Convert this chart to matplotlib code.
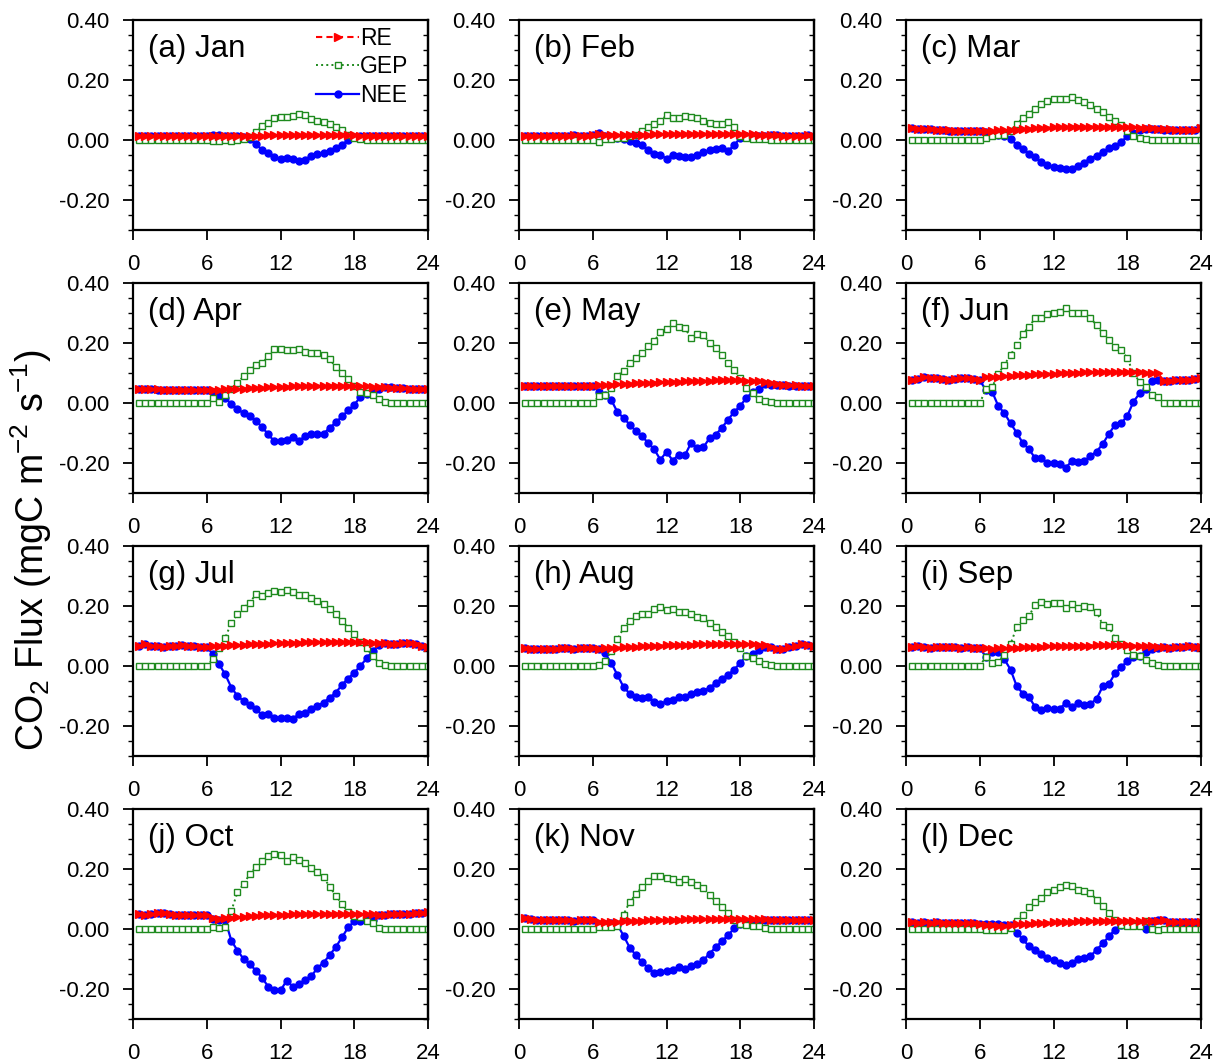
import numpy as np
import matplotlib
matplotlib.use("Agg")
import matplotlib.pyplot as plt
from matplotlib.ticker import MultipleLocator, FormatStrFormatter

plt.rcParams['font.family'] = ['Liberation Sans', 'DejaVu Sans']
plt.rcParams['mathtext.fontset'] = 'custom'
plt.rcParams['mathtext.rm'] = 'Liberation Sans'
plt.rcParams['axes.unicode_minus'] = False

# half-hourly time stamps (h)
hours = np.arange(0.5, 24.01, 0.5)

month_names = ['Jan', 'Feb', 'Mar', 'Apr', 'May', 'Jun',
               'Jul', 'Aug', 'Sep', 'Oct', 'Nov', 'Dec']
panel_tags = ['a', 'b', 'c', 'd', 'e', 'f', 'g', 'h', 'i', 'j', 'k', 'l']

# ---- mean diurnal fluxes, mgC m-2 s-1 ----
re_jan = [0.013, 0.013, 0.013, 0.012, 0.012, 0.012, 0.012, 0.012, 0.012, 0.012, 0.012, 0.013,
          0.014, 0.013, 0.013, 0.012, 0.012, 0.013, 0.014, 0.015, 0.015, 0.016, 0.016, 0.016,
          0.016, 0.017, 0.017, 0.017, 0.017, 0.017, 0.017, 0.017, 0.017, 0.017, 0.017, 0.016,
          0.015, 0.015, 0.014, 0.014, 0.014, 0.013, 0.013, 0.013, 0.013, 0.013, 0.013, 0.013]
gep_jan = [0.0, 0.0, 0.0, 0.0, 0.0, 0.0, 0.0, 0.0, 0.0, 0.0, 0.0, 0.0,
           -0.003, -0.004, 0.000, -0.003, 0.000, 0.002, 0.010, 0.028, 0.048, 0.058, 0.072, 0.078,
           0.076, 0.080, 0.086, 0.082, 0.070, 0.065, 0.060, 0.052, 0.044, 0.032, 0.018, 0.006,
           0.002, 0.001, 0.0, 0.0, 0.0, 0.0, 0.0, 0.0, 0.0, 0.0, 0.0, 0.0]
nee_jan = [0.013, 0.013, 0.013, 0.012, 0.012, 0.012, 0.012, 0.012, 0.012, 0.012, 0.012, 0.013,
           0.017, 0.017, 0.013, 0.015, 0.012, 0.011, 0.004, -0.013, -0.033, -0.042, -0.056, -0.062,
           -0.060, -0.063, -0.069, -0.065, -0.053, -0.048, -0.043, -0.035, -0.027, -0.015, -0.001, 0.010,
           0.013, 0.014, 0.014, 0.014, 0.014, 0.013, 0.013, 0.013, 0.013, 0.013, 0.013, 0.013]

re_feb = [0.014, 0.013, 0.013, 0.013, 0.013, 0.013, 0.014, 0.014, 0.016, 0.015, 0.014, 0.017,
          0.020, 0.018, 0.016, 0.016, 0.016, 0.017, 0.017, 0.018, 0.018, 0.019, 0.019, 0.020,
          0.020, 0.020, 0.020, 0.021, 0.021, 0.021, 0.021, 0.021, 0.021, 0.021, 0.021, 0.020,
          0.019, 0.019, 0.018, 0.017, 0.017, 0.016, 0.015, 0.015, 0.015, 0.015, 0.016, 0.015]
gep_feb = [0.0, 0.0, 0.0, 0.0, 0.0, 0.0, 0.0, 0.0, 0.0, 0.0, 0.0, 0.0,
           -0.005, 0.003, 0.004, 0.006, 0.008, 0.012, 0.018, 0.030, 0.042, 0.052, 0.063, 0.083,
           0.072, 0.074, 0.080, 0.078, 0.073, 0.063, 0.057, 0.053, 0.055, 0.059, 0.042, 0.012,
           0.006, 0.004, 0.003, 0.002, 0.001, 0.0, 0.0, 0.0, 0.0, 0.0, 0.0, 0.0]
nee_feb = [0.014, 0.013, 0.013, 0.013, 0.013, 0.013, 0.014, 0.014, 0.016, 0.015, 0.014, 0.017,
           0.022, 0.013, 0.011, 0.008, 0.002, -0.004, -0.010, -0.018, -0.034, -0.045, -0.050, -0.062,
           -0.050, -0.053, -0.058, -0.056, -0.050, -0.040, -0.034, -0.030, -0.028, -0.036, -0.018, 0.008,
           0.013, 0.015, 0.015, 0.015, 0.016, 0.016, 0.015, 0.015, 0.015, 0.015, 0.016, 0.015]

re_mar = [0.040, 0.038, 0.037, 0.036, 0.035, 0.034, 0.032, 0.031, 0.031, 0.031, 0.031, 0.030,
          0.031, 0.031, 0.032, 0.032, 0.033, 0.035, 0.036, 0.038, 0.039, 0.040, 0.041, 0.042,
          0.043, 0.044, 0.045, 0.045, 0.045, 0.045, 0.045, 0.045, 0.044, 0.044, 0.043, 0.043,
          0.042, 0.041, 0.040, 0.039, 0.038, 0.037, 0.036, 0.035, 0.034, 0.033, 0.033, 0.040]
gep_mar = [0.0, 0.0, 0.0, 0.0, 0.0, 0.0, 0.0, 0.0, 0.0, 0.0, 0.0, 0.0,
           0.006, 0.013, 0.016, 0.017, 0.030, 0.055, 0.072, 0.088, 0.103, 0.120, 0.130, 0.136,
           0.136, 0.138, 0.142, 0.135, 0.126, 0.116, 0.105, 0.094, 0.078, 0.063, 0.050, 0.030,
           0.015, 0.007, 0.003, 0.001, 0.0, 0.0, 0.0, 0.0, 0.0, 0.0, 0.0, 0.0]
nee_mar = [0.041, 0.038, 0.036, 0.036, 0.033, 0.034, 0.030, 0.031, 0.030, 0.031, 0.030, 0.031,
           0.027, 0.020, 0.017, 0.015, 0.005, -0.017, -0.030, -0.045, -0.058, -0.073, -0.082, -0.090,
           -0.093, -0.096, -0.095, -0.085, -0.075, -0.062, -0.052, -0.040, -0.028, -0.020, -0.006, 0.012,
           0.025, 0.033, 0.037, 0.037, 0.036, 0.035, 0.034, 0.033, 0.033, 0.032, 0.033, 0.040]

re_apr = [0.046, 0.046, 0.045, 0.045, 0.044, 0.044, 0.044, 0.043, 0.043, 0.043, 0.043, 0.043,
          0.044, 0.044, 0.045, 0.046, 0.047, 0.048, 0.049, 0.050, 0.051, 0.052, 0.053, 0.053,
          0.054, 0.055, 0.055, 0.056, 0.056, 0.057, 0.057, 0.058, 0.058, 0.058, 0.058, 0.057,
          0.056, 0.055, 0.054, 0.053, 0.052, 0.051, 0.050, 0.049, 0.048, 0.047, 0.046, 0.045]
gep_apr = [0.0, 0.0, 0.0, 0.0, 0.0, 0.0, 0.0, 0.0, 0.0, 0.0, 0.0, 0.0,
           0.015, 0.004, 0.025, 0.045, 0.065, 0.090, 0.110, 0.125, 0.132, 0.155, 0.180, 0.181,
           0.178, 0.175, 0.180, 0.170, 0.167, 0.168, 0.160, 0.145, 0.120, 0.100, 0.080, 0.057,
           0.038, 0.032, 0.026, 0.012, 0.003, 0.001, 0.0, 0.0, 0.0, 0.0, 0.0, 0.0]
nee_apr = [0.046, 0.045, 0.045, 0.044, 0.044, 0.043, 0.043, 0.043, 0.042, 0.042, 0.042, 0.043,
           0.035, 0.028, 0.018, -0.005, -0.020, -0.035, -0.045, -0.060, -0.080, -0.105, -0.128, -0.128,
           -0.122, -0.114, -0.126, -0.111, -0.103, -0.105, -0.103, -0.083, -0.065, -0.045, -0.025, -0.006,
           0.020, 0.030, 0.035, 0.045, 0.052, 0.052, 0.050, 0.049, 0.048, 0.047, 0.046, 0.045]

re_may = [0.055, 0.055, 0.056, 0.056, 0.056, 0.056, 0.056, 0.056, 0.057, 0.057, 0.057, 0.058,
          0.059, 0.060, 0.061, 0.062, 0.063, 0.064, 0.065, 0.066, 0.067, 0.068, 0.069, 0.070,
          0.071, 0.071, 0.072, 0.073, 0.073, 0.074, 0.074, 0.075, 0.075, 0.075, 0.075, 0.075,
          0.074, 0.073, 0.072, 0.070, 0.065, 0.062, 0.061, 0.060, 0.059, 0.058, 0.057, 0.056]
gep_may = [0.0, 0.0, 0.0, 0.0, 0.0, 0.0, 0.0, 0.0, 0.0, 0.0, 0.0, 0.0,
           0.022, 0.028, 0.050, 0.090, 0.108, 0.133, 0.150, 0.165, 0.189, 0.205, 0.238, 0.245,
           0.266, 0.252, 0.250, 0.215, 0.230, 0.226, 0.200, 0.183, 0.160, 0.133, 0.111, 0.083,
           0.050, 0.033, 0.012, 0.006, 0.002, 0.0, 0.0, 0.0, 0.0, 0.0, 0.0, 0.0]
nee_may = [0.056, 0.055, 0.057, 0.056, 0.055, 0.055, 0.056, 0.055, 0.056, 0.057, 0.056, 0.057,
           0.038, 0.028, 0.010, -0.030, -0.050, -0.072, -0.094, -0.111, -0.133, -0.155, -0.189, -0.163,
           -0.192, -0.172, -0.174, -0.133, -0.150, -0.148, -0.117, -0.106, -0.083, -0.056, -0.030, -0.010,
           0.018, 0.035, 0.045, 0.062, 0.061, 0.060, 0.059, 0.058, 0.058, 0.057, 0.056, 0.055]

re_jun = [0.078, 0.080, 0.085, 0.083, 0.082, 0.081, 0.076, 0.080, 0.082, 0.082, 0.080, 0.077,
          0.086, 0.087, 0.088, 0.089, 0.090, 0.092, 0.093, 0.094, 0.095, 0.096, 0.097, 0.098,
          0.099, 0.100, 0.101, 0.101, 0.102, 0.103, 0.103, 0.104, 0.104, 0.104, 0.104, 0.104,
          0.103, 0.102, 0.101, 0.100, 0.099, 0.072, 0.074, 0.075, 0.077, 0.078, 0.079, 0.082]
gep_jun = [0.0, 0.0, 0.0, 0.0, 0.0, 0.0, 0.0, 0.0, 0.0, 0.0, 0.0, 0.0,
           0.046, 0.052, 0.097, 0.127, 0.160, 0.193, 0.230, 0.254, 0.282, 0.284, 0.297, 0.299,
           0.304, 0.318, 0.299, 0.299, 0.299, 0.282, 0.260, 0.232, 0.210, 0.188, 0.177, 0.149,
           0.099, 0.071, 0.054, 0.027, 0.021, 0.0, 0.0, 0.0, 0.0, 0.0, 0.0, 0.0]
nee_jun = [0.078, 0.080, 0.085, 0.083, 0.082, 0.081, 0.076, 0.080, 0.082, 0.082, 0.080, 0.075,
           0.043, 0.038, -0.010, -0.034, -0.068, -0.099, -0.134, -0.154, -0.184, -0.184, -0.199, -0.199,
           -0.203, -0.216, -0.193, -0.196, -0.193, -0.177, -0.162, -0.137, -0.103, -0.073, -0.068, -0.043,
           0.004, 0.032, 0.045, 0.073, 0.078, 0.072, 0.074, 0.075, 0.077, 0.078, 0.079, 0.082]

re_jul = [0.068, 0.072, 0.068, 0.065, 0.063, 0.065, 0.066, 0.070, 0.068, 0.066, 0.063, 0.062,
          0.065, 0.066, 0.068, 0.069, 0.070, 0.071, 0.072, 0.073, 0.074, 0.074, 0.075, 0.076,
          0.077, 0.078, 0.078, 0.079, 0.079, 0.080, 0.080, 0.081, 0.081, 0.081, 0.081, 0.081,
          0.080, 0.079, 0.078, 0.077, 0.076, 0.074, 0.073, 0.078, 0.076, 0.072, 0.068, 0.064]
gep_jul = [0.0, 0.0, 0.0, 0.0, 0.0, 0.0, 0.0, 0.0, 0.0, 0.0, 0.0, 0.0,
           0.022, 0.060, 0.094, 0.144, 0.172, 0.194, 0.211, 0.239, 0.232, 0.244, 0.250, 0.248,
           0.252, 0.248, 0.236, 0.236, 0.228, 0.217, 0.206, 0.189, 0.172, 0.150, 0.128, 0.106,
           0.081, 0.059, 0.033, 0.011, 0.003, 0.0, 0.0, 0.0, 0.0, 0.0, 0.0, 0.0]
nee_jul = [0.068, 0.072, 0.068, 0.065, 0.063, 0.065, 0.066, 0.070, 0.068, 0.066, 0.063, 0.062,
           0.040, 0.006, -0.028, -0.072, -0.100, -0.117, -0.130, -0.144, -0.163, -0.161, -0.172, -0.172,
           -0.174, -0.178, -0.159, -0.156, -0.144, -0.133, -0.122, -0.106, -0.089, -0.063, -0.042, -0.022,
           0.000, 0.025, 0.050, 0.070, 0.075, 0.073, 0.072, 0.078, 0.076, 0.072, 0.068, 0.064]

re_aug = [0.060, 0.058, 0.058, 0.057, 0.057, 0.058, 0.060, 0.059, 0.058, 0.059, 0.060, 0.059,
          0.058, 0.059, 0.060, 0.061, 0.062, 0.063, 0.064, 0.065, 0.066, 0.067, 0.068, 0.069,
          0.070, 0.070, 0.071, 0.071, 0.072, 0.072, 0.072, 0.072, 0.072, 0.073, 0.073, 0.073,
          0.072, 0.072, 0.071, 0.070, 0.064, 0.058, 0.057, 0.062, 0.068, 0.072, 0.070, 0.066]
gep_aug = [0.0, 0.0, 0.0, 0.0, 0.0, 0.0, 0.0, 0.0, 0.0, 0.0, 0.0, 0.0,
           0.003, 0.017, 0.050, 0.089, 0.126, 0.150, 0.167, 0.174, 0.172, 0.189, 0.197, 0.186,
           0.189, 0.181, 0.181, 0.172, 0.163, 0.159, 0.144, 0.130, 0.114, 0.100, 0.081, 0.059,
           0.033, 0.028, 0.017, 0.006, 0.002, 0.0, 0.0, 0.0, 0.0, 0.0, 0.0, 0.0]
nee_aug = [0.060, 0.058, 0.058, 0.057, 0.057, 0.058, 0.060, 0.059, 0.058, 0.059, 0.060, 0.059,
           0.055, 0.042, 0.010, -0.030, -0.070, -0.092, -0.102, -0.106, -0.104, -0.120, -0.128, -0.117,
           -0.114, -0.105, -0.102, -0.094, -0.088, -0.084, -0.072, -0.058, -0.043, -0.030, -0.012, 0.010,
           0.034, 0.040, 0.052, 0.063, 0.062, 0.058, 0.057, 0.062, 0.068, 0.072, 0.070, 0.066]

re_sep = [0.064, 0.065, 0.062, 0.061, 0.063, 0.063, 0.064, 0.062, 0.061, 0.062, 0.061, 0.060,
          0.060, 0.058, 0.059, 0.059, 0.060, 0.061, 0.062, 0.063, 0.064, 0.064, 0.065, 0.066,
          0.066, 0.067, 0.067, 0.068, 0.068, 0.068, 0.069, 0.069, 0.069, 0.069, 0.069, 0.069,
          0.068, 0.067, 0.066, 0.065, 0.063, 0.062, 0.060, 0.062, 0.063, 0.066, 0.064, 0.063]
gep_sep = [0.0, 0.0, 0.0, 0.0, 0.0, 0.0, 0.0, 0.0, 0.0, 0.0, 0.0, 0.0,
           0.031, 0.009, 0.014, 0.037, 0.073, 0.129, 0.153, 0.167, 0.203, 0.214, 0.207, 0.211,
           0.211, 0.192, 0.207, 0.192, 0.200, 0.196, 0.181, 0.137, 0.129, 0.094, 0.073, 0.053,
           0.037, 0.033, 0.020, 0.009, 0.003, 0.0, 0.0, 0.0, 0.0, 0.0, 0.0, 0.0]
nee_sep = [0.064, 0.065, 0.062, 0.061, 0.063, 0.063, 0.064, 0.062, 0.061, 0.062, 0.061, 0.060,
           0.030, 0.048, 0.048, 0.022, -0.012, -0.067, -0.092, -0.104, -0.136, -0.146, -0.139, -0.142,
           -0.142, -0.124, -0.138, -0.123, -0.129, -0.126, -0.110, -0.068, -0.060, -0.025, -0.004, 0.016,
           0.030, 0.033, 0.046, 0.056, 0.060, 0.062, 0.060, 0.062, 0.063, 0.066, 0.064, 0.063]

re_oct = [0.049, 0.048, 0.050, 0.052, 0.053, 0.050, 0.048, 0.048, 0.047, 0.046, 0.046, 0.048,
          0.038, 0.034, 0.037, 0.038, 0.040, 0.041, 0.042, 0.043, 0.045, 0.046, 0.047, 0.047,
          0.048, 0.049, 0.049, 0.050, 0.050, 0.050, 0.050, 0.051, 0.051, 0.051, 0.051, 0.050,
          0.050, 0.049, 0.049, 0.048, 0.048, 0.049, 0.050, 0.050, 0.051, 0.052, 0.053, 0.056]
gep_oct = [0.0, 0.0, 0.0, 0.0, 0.0, 0.0, 0.0, 0.0, 0.0, 0.0, 0.0, 0.0,
           0.006, 0.003, 0.008, 0.061, 0.122, 0.150, 0.183, 0.206, 0.228, 0.242, 0.250, 0.248,
           0.226, 0.239, 0.231, 0.219, 0.203, 0.189, 0.172, 0.141, 0.111, 0.083, 0.056, 0.044,
           0.039, 0.028, 0.019, 0.003, 0.001, 0.0, 0.0, 0.0, 0.0, 0.0, 0.0, 0.0]
nee_oct = [0.049, 0.048, 0.050, 0.052, 0.053, 0.050, 0.048, 0.048, 0.047, 0.046, 0.046, 0.048,
           0.032, 0.030, 0.030, -0.039, -0.072, -0.100, -0.117, -0.139, -0.163, -0.192, -0.204, -0.205,
           -0.172, -0.192, -0.183, -0.170, -0.158, -0.130, -0.112, -0.087, -0.060, -0.028, 0.005, 0.026,
           0.028, 0.033, 0.030, 0.046, 0.048, 0.049, 0.050, 0.050, 0.051, 0.052, 0.053, 0.056]

re_nov = [0.038, 0.033, 0.031, 0.031, 0.031, 0.030, 0.030, 0.029, 0.028, 0.030, 0.031, 0.030,
          0.024, 0.023, 0.024, 0.024, 0.025, 0.026, 0.027, 0.028, 0.029, 0.030, 0.030, 0.031,
          0.031, 0.031, 0.032, 0.032, 0.032, 0.033, 0.033, 0.033, 0.033, 0.033, 0.033, 0.033,
          0.032, 0.032, 0.032, 0.032, 0.031, 0.031, 0.031, 0.031, 0.030, 0.030, 0.030, 0.030]
gep_nov = [0.0, 0.0, 0.0, 0.0, 0.0, 0.0, 0.0, 0.0, 0.0, 0.0, 0.0, 0.0,
           0.006, 0.008, 0.005, 0.010, 0.048, 0.090, 0.115, 0.140, 0.160, 0.178, 0.175, 0.170,
           0.168, 0.157, 0.165, 0.155, 0.148, 0.135, 0.113, 0.092, 0.072, 0.052, 0.030, 0.015,
           0.012, 0.010, 0.009, 0.002, 0.0, 0.0, 0.0, 0.0, 0.0, 0.0, 0.0, 0.0]
nee_nov = [0.038, 0.033, 0.031, 0.031, 0.031, 0.030, 0.030, 0.029, 0.028, 0.030, 0.031, 0.030,
           0.018, 0.015, 0.019, 0.014, -0.022, -0.062, -0.087, -0.111, -0.130, -0.148, -0.145, -0.140,
           -0.138, -0.126, -0.134, -0.124, -0.117, -0.104, -0.082, -0.061, -0.041, -0.021, 0.002, 0.018,
           0.020, 0.022, 0.023, 0.030, 0.031, 0.031, 0.031, 0.031, 0.030, 0.030, 0.030, 0.030]

re_dec = [0.022, 0.021, 0.022, 0.021, 0.022, 0.021, 0.020, 0.020, 0.020, 0.019, 0.019, 0.018,
          0.013, 0.012, 0.011, 0.011, 0.013, 0.015, 0.016, 0.017, 0.019, 0.020, 0.021, 0.022,
          0.023, 0.024, 0.024, 0.025, 0.025, 0.025, 0.025, 0.026, 0.026, 0.026, 0.026, 0.026,
          0.026, 0.026, 0.026, 0.027, 0.028, 0.030, 0.024, 0.023, 0.022, 0.022, 0.022, 0.022]
gep_dec = [0.0, 0.0, 0.0, 0.0, 0.0, 0.0, 0.0, 0.0, 0.0, 0.0, 0.0, 0.0,
           -0.004, -0.004, -0.005, -0.004, 0.002, 0.026, 0.048, 0.073, 0.089, 0.103, 0.122, 0.129,
           0.140, 0.148, 0.142, 0.131, 0.126, 0.120, 0.098, 0.076, 0.053, 0.031, 0.014, 0.009,
           0.009, 0.011, 0.026, 0.000, -0.004, 0.0, 0.0, 0.0, 0.0, 0.0, 0.0, 0.0]
nee_dec = [0.022, 0.021, 0.022, 0.021, 0.022, 0.021, 0.020, 0.020, 0.020, 0.019, 0.019, 0.018,
           0.017, 0.016, 0.016, 0.014, 0.012, -0.012, -0.034, -0.058, -0.069, -0.082, -0.097, -0.104,
           -0.112, -0.119, -0.113, -0.101, -0.097, -0.090, -0.070, -0.048, -0.025, -0.002, 0.012, 0.016,
           0.017, 0.016, 0.001, 0.028, 0.030, 0.030, 0.024, 0.023, 0.022, 0.022, 0.022, 0.022]

re_all = [re_jan, re_feb, re_mar, re_apr, re_may, re_jun,
          re_jul, re_aug, re_sep, re_oct, re_nov, re_dec]
gep_all = [gep_jan, gep_feb, gep_mar, gep_apr, gep_may, gep_jun,
           gep_jul, gep_aug, gep_sep, gep_oct, gep_nov, gep_dec]
nee_all = [nee_jan, nee_feb, nee_mar, nee_apr, nee_may, nee_jun,
           nee_jul, nee_aug, nee_sep, nee_oct, nee_nov, nee_dec]

fig = plt.figure(figsize=(12.17, 10.64), dpi=100)

# panel layout in figure fractions
col_left = [0.1093, 0.4265, 0.7445]
row_bottom = [0.7838, 0.5367, 0.2895, 0.0423]
pw, ph = 0.2424, 0.1974

for k in range(12):
    r, c = divmod(k, 3)
    ax = fig.add_axes([col_left[c], row_bottom[r], pw, ph])

    l3, = ax.plot(hours, nee_all[k], color='blue', lw=1.6, ls='-',
                  marker='o', ms=5, mec='blue', mfc='blue', label='NEE')
    l2, = ax.plot(hours, gep_all[k], color='#1e8a1e', lw=1.4, ls=':',
                  marker='s', ms=5, mfc='white', mec='#1e8a1e', mew=1.0, label='GEP')
    l1, = ax.plot(hours, re_all[k], color='red', lw=1.5, ls='--', dashes=(3, 2),
                  marker='>', ms=6, mec='red', mfc='red', label='RE')

    ax.set_xlim(0, 24)
    ax.set_ylim(-0.3, 0.4)
    ax.xaxis.set_major_locator(MultipleLocator(6))
    ax.yaxis.set_major_locator(MultipleLocator(0.2))
    ax.yaxis.set_minor_locator(MultipleLocator(0.05))
    ax.yaxis.set_major_formatter(FormatStrFormatter('%.2f'))
    ax.tick_params(axis='both', which='major', direction='out', length=7,
                   width=1.3, labelsize=16, top=False, right=False)
    ax.tick_params(axis='x', which='major', pad=10)
    ax.tick_params(axis='y', which='major', pad=10)
    ax.tick_params(axis='y', which='minor', direction='out', length=3.5,
                   width=1.0, right=False)
    for s in ax.spines.values():
        s.set_linewidth(1.6)

    # inward ticks on the right spine
    sec = ax.secondary_yaxis('right')
    sec.yaxis.set_major_locator(MultipleLocator(0.2))
    sec.yaxis.set_minor_locator(MultipleLocator(0.05))
    sec.tick_params(which='major', direction='in', length=7, width=1.3, labelright=False)
    sec.tick_params(which='minor', direction='in', length=3.5, width=1.0)
    sec.spines['right'].set_linewidth(1.6)

    ax.text(0.05, 0.86, '(%s) %s' % (panel_tags[k], month_names[k]),
            transform=ax.transAxes, fontsize=22.5, va='center', ha='left')

    if k == 0:
        ax.legend(handles=[l1, l2, l3], loc='upper right',
                  bbox_to_anchor=(0.98, 1.03), frameon=False, fontsize=16.5,
                  numpoints=1, handlelength=1.85, handletextpad=0.05,
                  labelspacing=0.22, borderaxespad=0.2)

fig.text(0.026, 0.483, r'CO$_\mathregular{2}$ Flux (mgC m$^\mathregular{-2}$ s$^\mathregular{-1}$)',
         rotation=90, fontsize=27, va='center', ha='center')

fig.savefig('out.png', dpi=100)
